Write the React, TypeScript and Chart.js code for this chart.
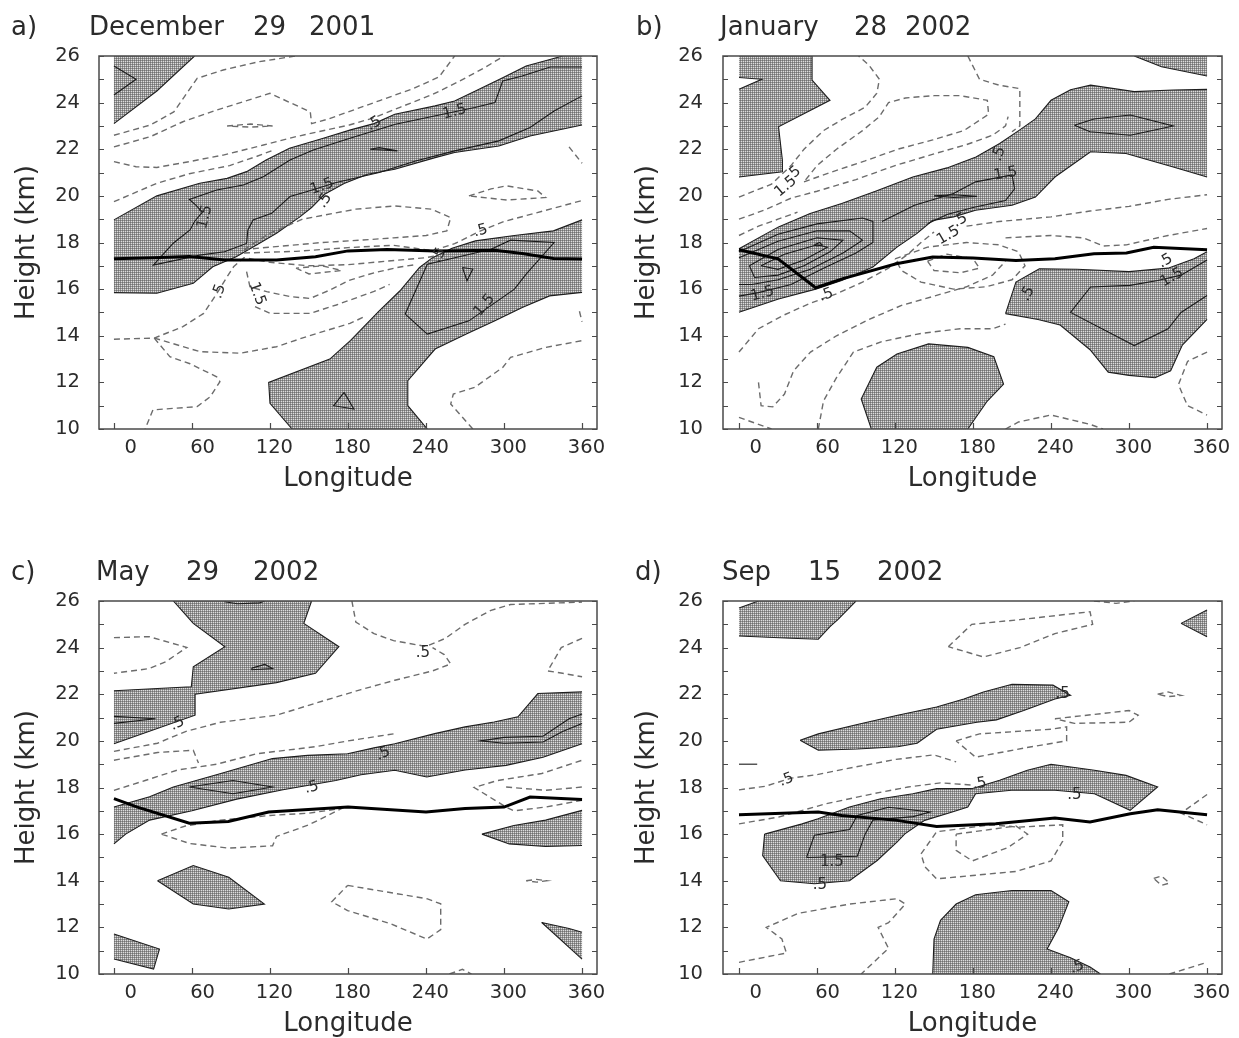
import React, { useEffect, useRef } from 'react';
import Chart from 'chart.js/auto';

type Pt = [number, number];
type Lbl = [string, number, number, number]; // text, longitude, height, rotation (deg)

// ---------- axes ----------
const X_TICKS = [0, 60, 120, 180, 240, 300, 360];
const Y_TICKS = [10, 11, 12, 13, 14, 15, 16, 17, 18, 19, 20, 21, 22, 23, 24, 25, 26];
const LON_MIN = 0;
const LON_MAX = 360;
const H_MIN = 10;
const H_MAX = 26;

// ---------- panel a) December 29 2001 ----------
const A_TITLE = ['a)', 'December', '29', '2001'];
const A_TROPOPAUSE: Pt[] = [[0, 17.3], [30, 17.35], [58, 17.4], [85, 17.25], [125, 17.25], [155, 17.39], [180, 17.64], [210, 17.7], [247, 17.64], [293, 17.67], [314, 17.53], [338, 17.31], [360, 17.29]];
const A_SHADE_1: Pt[] = [[0, 26], [62, 26], [33, 24.5], [0, 23.1]];
const A_SHADE_2: Pt[] = [[0, 18.97], [33, 20.0], [66, 20.54], [87, 20.75], [102, 21.04], [117, 21.54], [135, 22.04], [161, 22.47], [182, 22.83], [200, 23.1], [216, 23.5], [247, 23.86], [262, 24.07], [278, 24.5], [299, 25.07], [317, 25.57], [336, 25.86], [345, 26], [360, 26], [360, 23.04], [320, 22.57], [296, 22.14], [262, 21.86], [247, 21.64], [216, 21.14], [195, 20.93], [177, 20.53], [162, 20.07], [152, 19.5], [143, 19.1], [125, 18.4], [110, 17.9], [94, 17.39], [76, 16.96], [61, 16.25], [33, 15.82], [0, 15.85]];
const A_SHADE_3: Pt[] = [[137, 10], [120, 11.1], [119, 12.0], [166, 13.0], [182, 13.8], [204, 15.07], [220, 15.93], [235, 16.93], [245, 17.35], [260, 17.75], [278, 18.07], [308, 18.3], [338, 18.5], [360, 18.97], [360, 15.86], [335, 15.71], [314, 15.21], [293, 14.64], [271, 14.07], [247, 13.43], [226, 12.07], [226, 11.0], [241, 10]];
const A_SOLID_1: Pt[] = [[360, 25.53], [335.5, 25.53], [314, 25.14], [299, 24.93], [293, 24.0], [277.5, 23.79], [241, 23.36], [216.5, 23.07], [181.5, 22.47], [153.3, 21.97], [135.4, 21.54], [114.9, 20.82], [99.5, 20.47], [79, 20.25], [58, 19.85], [63, 19.6], [68, 19.3], [62, 18.9], [58.5, 18.54], [45.6, 17.97], [30.3, 17.03], [66, 17.46], [85, 17.6], [102, 17.96], [103, 18.54], [107, 18.97], [121.3, 19.25], [135.4, 19.97], [148, 20.18], [171, 20.57], [204, 21.0], [232, 21.5], [262, 21.93], [296, 22.36], [320, 22.93], [338.5, 23.64], [360, 24.29]];
const A_SOLID_2: Pt[] = [[197, 22.0], [218, 21.93], [204, 22.07], [197, 22.0]];
const A_SOLID_3: Pt[] = [[0, 25.57], [17, 25.0], [0, 24.33]];
const A_SOLID_4: Pt[] = [[224, 14.93], [241, 14.07], [273, 14.64], [308, 16.0], [317, 16.64], [338.5, 18.0], [305, 18.1], [290, 17.71], [241, 17.07], [224, 14.93]];
const A_SOLID_5: Pt[] = [[268, 16.93], [276, 16.86], [271.5, 16.36], [268, 16.93]];
const A_SOLID_6: Pt[] = [[177, 11.57], [184.5, 10.86], [169, 11.0], [177, 11.57]];
const A_DASH_1: Pt[] = [[0, 22.6], [28, 23.04], [46, 23.6], [64, 25.04], [84, 25.4], [112, 25.76], [140, 26]];
const A_DASH_2: Pt[] = [[0, 22.1], [28, 22.54], [53, 23.18], [79, 23.68], [120, 24.4], [151, 23.6], [152, 23.1], [165, 23.3], [180, 23.6], [205, 24.1], [230, 24.6], [250, 25.1], [262, 26]];
const A_DASH_3: Pt[] = [[0, 21.47], [17, 21.25], [33, 21.22], [58, 21.47], [84, 21.75], [115, 22.18], [140, 22.54], [181, 23.04], [200, 23.35], [220, 23.8], [245, 24.35], [265, 24.9], [285, 25.5], [300, 26]];
const A_DASH_4: Pt[] = [[0, 19.75], [33, 20.54], [58, 20.95], [89, 21.3], [110, 21.7], [122, 21.95]];
const A_DASH_5: Pt[] = [[350, 22.1], [360, 21.4]];
const A_DASH_6: Pt[] = [[273, 20.0], [290, 20.3], [302, 20.43], [326, 20.21], [332, 19.93], [302, 19.82], [273, 20.0]];
const A_DASH_7: Pt[] = [[100, 17.55], [140, 17.62], [180, 17.78], [215, 17.88], [245, 17.65], [262, 17.95], [282, 18.5], [300, 18.9], [330, 19.35], [360, 19.8]];
const A_DASH_8: Pt[] = [[100, 17.7], [120, 18.4], [145, 19.0], [186, 19.43], [216, 19.57], [244, 19.43], [259, 19.07], [256, 18.5], [240, 18.3], [215, 18.2], [190, 18.1], [160, 18.0], [130, 17.85], [100, 17.7]];
const A_DASH_9: Pt[] = [[0, 13.85], [31, 13.9], [53, 14.39], [69, 14.96], [80, 15.89], [87, 16.53], [92, 16.96], [100, 17.35], [120, 17.15], [150, 17.0], [180, 17.05], [210, 17.2], [240, 17.35], [250, 17.45]];
const A_DASH_10: Pt[] = [[102, 16.75], [104.6, 16.1], [117.5, 15.89], [135.4, 15.68], [150.8, 15.6], [166, 15.96], [181.5, 16.39], [200, 16.7], [220, 16.95], [232, 17.05]];
const A_DASH_11: Pt[] = [[108.5, 15.25], [120, 14.96], [150.8, 14.96], [171, 15.32], [181.5, 15.53], [200, 15.9], [212, 16.2]];
const A_DASH_12: Pt[] = [[140, 16.9], [150, 16.65], [175, 16.8], [160, 17.0], [140, 16.9]];
const A_DASH_13: Pt[] = [[31, 13.9], [66, 13.32], [97, 13.25], [125, 13.53], [148, 13.96], [181.5, 14.53], [192, 14.8]];
const A_DASH_14: Pt[] = [[31, 13.9], [43, 13.1], [58.5, 12.8], [79, 12.24], [81.5, 12.03], [74, 11.38], [64, 10.96], [30, 10.82], [24, 10]];
const A_DASH_15: Pt[] = [[276, 10], [259, 11.07], [261, 11.5], [277.5, 11.79], [299, 12.64], [305, 13.07], [332, 13.5], [360, 13.79]];
const A_DASH_16: Pt[] = [[358, 15.05], [360, 14.6]];
const A_DASH_17: Pt[] = [[87, 23.0], [105, 23.08], [122, 23.0], [105, 22.95], [87, 23.0]];
const A_LABELS: Lbl[] = [['.5', 200, 23.1, -30], ['1.5', 262, 23.6, -15], ['1.5', 160, 20.4, -20], ['.5', 162, 19.8, -55], ['1.5', 70, 19.1, -75], ['.5', 81, 15.9, -70], ['1.5', 110, 15.8, 70], ['.5', 282, 18.5, -15], ['.5', 250, 17.45, -60], ['1.5', 285, 15.3, -50]];

// ---------- panel b) January 28 2002 ----------
const B_TITLE = ['b)', 'January', '28', '2002'];
const B_TROPOPAUSE: Pt[] = [[0, 17.69], [30, 17.3], [59, 16.06], [80, 16.45], [121, 17.09], [149, 17.38], [180, 17.33], [213, 17.23], [243, 17.3], [273, 17.52], [298, 17.55], [319, 17.8], [360, 17.69]];
const B_SHADE_1: Pt[] = [[0, 26], [0, 25.08], [17.5, 25.0], [0, 24.57], [0, 20.81], [33.4, 21.03], [33.4, 21.53], [30.4, 22.96], [70, 24.1], [56.2, 24.97], [56.2, 26]];
const B_SHADE_2: Pt[] = [[0, 17.73], [30.4, 18.67], [54.7, 19.24], [79, 19.67], [105, 20.2], [133.7, 20.81], [160, 21.2], [182.3, 21.67], [200.5, 22.25], [215.7, 22.82], [228, 23.3], [240, 24.1], [255, 24.55], [270.4, 24.75], [304, 24.47], [334, 24.54], [360, 24.57], [360, 20.81], [334, 21.24], [297.7, 21.82], [270.4, 21.89], [243, 20.81], [228, 19.95], [210, 19.6], [182, 19.38], [165, 19.1], [149, 18.95], [136.7, 18.38], [121.5, 17.8], [103, 16.95], [79, 16.37], [59, 16.0], [30.4, 15.58], [0, 15.01]];
const B_SHADE_3: Pt[] = [[205, 14.95], [213, 16.3], [231, 16.87], [260, 16.85], [300, 16.75], [330, 16.9], [350, 17.3], [360, 17.6], [360, 14.7], [341, 13.6], [332, 12.5], [320, 12.2], [300, 12.3], [284, 12.44], [270, 13.4], [247, 14.46], [230, 14.7]];
const B_SHADE_4: Pt[] = [[304, 26], [325, 25.54], [360, 25.14], [360, 26]];
const B_SHADE_5: Pt[] = [[101.8, 10], [94, 11.29], [106, 12.65], [121.5, 13.22], [145.8, 13.65], [176, 13.5], [196, 13.1], [203.5, 11.93], [191, 11.2], [176, 10]];
const B_SOLID_1: Pt[] = [[0, 17.6], [30, 18.35], [60, 18.8], [95, 19.05], [103, 18.9], [103, 18.0], [90, 17.55], [65, 16.9], [40, 16.2], [15, 15.85], [0, 15.7]];
const B_SOLID_2: Pt[] = [[0, 17.35], [30, 18.05], [60, 18.5], [85, 18.5], [95, 18.1], [80, 17.55], [55, 16.85], [30, 16.4], [10, 16.2], [0, 16.2]];
const B_SOLID_3: Pt[] = [[8, 17.0], [30, 17.7], [60, 18.2], [80, 18.1], [70, 17.6], [50, 17.0], [30, 16.6], [12, 16.5], [8, 17.0]];
const B_SOLID_4: Pt[] = [[17, 17.0], [35, 17.5], [60, 17.9], [68, 17.8], [50, 17.25], [30, 16.85], [17, 17.0]];
const B_SOLID_5: Pt[] = [[58, 17.9], [62, 18.0], [64, 17.9], [60, 17.85], [58, 17.9]];
const B_SOLID_6: Pt[] = [[110, 18.9], [135, 19.6], [165, 20.1], [182, 20.6], [210, 20.9], [212, 20.3], [205, 19.8], [180, 19.5], [160, 19.2], [145, 18.8]];
const B_SOLID_7: Pt[] = [[150, 20.0], [165, 20.05], [183, 19.98], [165, 19.93], [150, 20.0]];
const B_SOLID_8: Pt[] = [[258, 23.03], [273, 23.3], [301, 23.47], [334, 23.0], [301, 22.6], [270, 22.75], [258, 23.03]];
const B_SOLID_9: Pt[] = [[360, 17.25], [340, 16.6], [322, 16.37], [300.8, 16.16], [270.4, 16.09], [255, 15.0], [304, 13.58], [330, 14.3], [340, 15.0], [360, 15.73]];
const B_DASH_1: Pt[] = [[0, 19.95], [25, 20.5], [40, 21.3], [50, 22.0], [65, 22.8], [80, 23.3], [97, 23.8], [106, 24.4], [108, 25.0], [100, 25.6], [92, 26]];
const B_DASH_2: Pt[] = [[176, 26], [185, 25.0], [200, 24.75], [216, 24.6], [216, 23.0], [210, 22.75]];
const B_DASH_3: Pt[] = [[50, 20.6], [70, 21.0], [97, 21.5], [122, 22.0], [149, 22.4], [173, 22.8], [192, 23.5], [191, 24.1], [170, 24.3], [150, 24.3], [128, 24.2], [115, 24.0], [108, 23.4], [95, 22.8], [75, 22.0], [60, 21.3], [50, 20.6]];
const B_DASH_4: Pt[] = [[0, 19.0], [20, 19.4], [40, 19.9], [60, 20.2], [90, 20.7], [120, 21.3], [150, 21.8], [175, 22.2], [195, 22.6], [205, 23.0], [207, 23.4]];
const B_DASH_5: Pt[] = [[0, 18.3], [15, 18.7], [30, 19.0], [45, 19.3]];
const B_DASH_6: Pt[] = [[0, 13.3], [15, 14.3], [35, 14.9], [55, 15.4], [75, 15.8], [95, 16.3], [115, 16.9], [130, 17.5], [140, 18.0], [150, 18.45]];
const B_DASH_7: Pt[] = [[15, 12.0], [17, 11.0], [26, 10.95], [35, 11.5], [42, 12.5], [55, 13.3], [75, 14.0], [100, 14.7], [125, 15.3], [150, 15.7], [175, 16.1], [195, 16.6], [205, 17.2]];
const B_DASH_8: Pt[] = [[61, 10], [65, 11.2], [75, 12.2], [88, 13.3], [110, 13.75], [140, 14.1], [170, 14.3], [195, 14.3], [205, 14.5]];
const B_DASH_9: Pt[] = [[120, 17.3], [145, 17.8], [175, 18.0], [200, 17.9], [215, 17.6], [220, 17.0], [210, 16.4], [190, 16.1], [165, 16.0], [140, 16.3], [125, 16.8], [120, 17.3]];
const B_DASH_10: Pt[] = [[145, 17.2], [160, 17.5], [180, 17.3], [185, 16.9], [170, 16.7], [150, 16.8], [145, 17.2]];
const B_DASH_11: Pt[] = [[175, 18.7], [200, 18.9], [240, 19.1], [270, 19.35], [300, 19.55], [330, 19.85], [360, 20.05]];
const B_DASH_12: Pt[] = [[205, 18.2], [240, 18.3], [265, 18.2], [280, 17.85], [298, 17.9], [330, 18.3], [360, 18.6]];
const B_DASH_13: Pt[] = [[205, 10], [215, 10.3], [240, 10.6], [270, 10.2], [280, 10]];
const B_DASH_14: Pt[] = [[0, 10.5], [20, 10.1], [25, 10]];
const B_DASH_15: Pt[] = [[360, 13.3], [345, 12.9], [338, 11.9], [345, 11.0], [360, 10.6]];
const B_LABELS: Lbl[] = [['.5', 200, 21.8, -70], ['1.5', 205, 20.95, -10], ['1.5', 36, 20.4, -40], ['.5', 42, 20.95, -40], ['.5', 170, 18.95, -30], ['1.5', 161, 18.3, -30], ['1.5', 18, 15.8, -15], ['.5', 67, 15.75, -20], ['.5', 222, 15.8, -60], ['.5', 328, 17.2, -30], ['1.5', 333, 16.5, -30]];

// ---------- panel c) May 29 2002 ----------
const C_TITLE = ['c)', 'May', '29', '2002'];
const C_TROPOPAUSE: Pt[] = [[0, 17.52], [18, 17.16], [58, 16.47], [88, 16.54], [119, 16.95], [180, 17.16], [240, 16.95], [270, 17.1], [300, 17.16], [320, 17.59], [360, 17.49]];
const C_SHADE_1: Pt[] = [[0, 22.15], [59.5, 22.32], [61, 23.18], [85.3, 24.04], [61, 25.04], [45.7, 26], [152, 26], [146, 25.04], [173, 24.04], [155, 22.9], [125, 22.5], [62.4, 22.0], [62.4, 21.1], [0, 19.88]];
const C_SHADE_2: Pt[] = [[0, 17.16], [27.4, 17.6], [45.7, 18.02], [82.2, 18.6], [121.8, 19.24], [149, 19.38], [179.7, 19.45], [200, 19.7], [216, 19.88], [246.7, 20.31], [270, 20.6], [292.4, 20.81], [310.7, 21.03], [326, 22.03], [360, 22.1], [360, 19.88], [330, 19.3], [301.6, 18.95], [270, 18.75], [240.6, 18.45], [216, 18.74], [190, 18.55], [170.6, 18.3], [130, 17.9], [94.4, 17.5], [60, 17.0], [27.4, 16.6], [9, 16.0], [0, 15.58]];
const C_SHADE_3: Pt[] = [[283, 16.0], [307.6, 16.37], [332, 16.6], [360, 17.02], [360, 15.51], [332, 15.47], [304, 15.58]];
const C_SHADE_4: Pt[] = [[33.5, 14.0], [61, 14.65], [88.3, 14.15], [115.7, 13.0], [88.3, 12.79], [61, 13.0]];
const C_SHADE_5: Pt[] = [[0, 11.72], [35, 11.07], [30.5, 10.21], [0, 10.64]];
const C_SHADE_6: Pt[] = [[329, 12.21], [350, 11.95], [360, 11.79], [360, 10.64]];
const C_SOLID_1: Pt[] = [[85, 25.97], [95, 25.88], [112, 25.92], [116, 26]];
const C_SOLID_2: Pt[] = [[106, 23.12], [116, 23.28], [122, 23.1], [106, 23.05], [106, 23.12]];
const C_SOLID_3: Pt[] = [[0, 21.05], [32, 20.95], [0, 20.75]];
const C_SOLID_4: Pt[] = [[58, 18.02], [91.5, 18.3], [122, 18.02], [91.5, 17.73], [58, 18.02]];
const C_SOLID_5: Pt[] = [[360, 21.15], [350, 20.95], [330, 20.2], [300, 20.15], [282, 20.0], [300, 19.9], [330, 19.95], [345, 20.4], [360, 20.75]];
const C_DASH_1: Pt[] = [[0, 24.43], [27, 24.47], [56, 24.01], [40, 23.4], [27, 23.1], [0, 22.9]];
const C_DASH_2: Pt[] = [[183, 26], [186, 25.1], [200, 24.6], [215, 24.3], [240, 24.05], [255, 24.4], [270, 25.0], [290, 25.6], [305, 25.85], [360, 25.95]];
const C_DASH_3: Pt[] = [[0, 19.55], [33.5, 19.9], [55, 20.4], [82, 20.8], [125, 21.1], [160, 21.7], [190, 22.2], [216, 22.6], [245, 23.0], [259, 23.3], [254, 23.7], [245, 24.0]];
const C_DASH_4: Pt[] = [[0, 19.17], [33.5, 19.5], [61, 19.6], [65, 19.05]];
const C_DASH_5: Pt[] = [[0, 17.88], [24, 18.3], [49, 18.75], [79, 19.0], [110, 19.45], [155, 19.75], [180, 20.0], [215, 20.3]];
const C_DASH_6: Pt[] = [[36.5, 16.0], [55, 16.35], [82, 16.6], [120, 16.8], [150, 16.9], [175, 17.1], [150, 16.4], [125, 15.9], [122, 15.5], [88, 15.4], [58, 15.6], [36.5, 16.0]];
const C_DASH_7: Pt[] = [[179.7, 13.8], [240.6, 13.23], [251.3, 13.01], [251.3, 11.9], [240.6, 11.5], [213, 12.15], [179.7, 12.72], [167.5, 13.1], [179.7, 13.8]];
const C_DASH_8: Pt[] = [[317, 14.0], [325, 14.06], [333, 14.0], [325, 13.94], [317, 14.0]];
const C_DASH_9: Pt[] = [[258, 10], [268, 10.2], [275, 10]];
const C_DASH_10: Pt[] = [[360, 24.4], [344, 24.0], [333.6, 23.0], [345, 22.9], [360, 22.75]];
const C_DASH_11: Pt[] = [[360, 17.45], [332, 17.16], [307.6, 17.0], [301.6, 17.16], [277, 18.0], [295, 18.3], [329, 18.6], [360, 19.17]];
const C_DASH_12: Pt[] = [[301.6, 18.02], [332, 17.88], [360, 18.02]];
const C_LABELS: Lbl[] = [['.5', 48.7, 20.74, -25], ['.5', 237.6, 23.75, 0], ['.5', 207, 19.45, -25], ['.5', 152, 18.0, -15]];

// ---------- panel d) Sep 15 2002 ----------
const D_TITLE = ['d)', 'Sep', '15', '2002'];
const D_TROPOPAUSE: Pt[] = [[0, 16.83], [61, 16.95], [79, 16.8], [121.5, 16.59], [152, 16.33], [197.5, 16.44], [243, 16.69], [270, 16.52], [301, 16.87], [322, 17.05], [360, 16.83]];
const D_SHADE_1: Pt[] = [[0, 25.7], [15, 26], [90, 26], [76, 25.2], [70, 24.9], [61, 24.36], [40, 24.4], [0, 24.5]];
const D_SHADE_2: Pt[] = [[340, 25.04], [360, 25.61], [360, 24.47]];
const D_SHADE_3: Pt[] = [[47, 20.03], [61, 20.3], [91, 20.7], [122, 21.1], [152, 21.45], [173, 21.8], [188, 22.1], [210, 22.43], [241.5, 22.39], [255, 21.96], [243, 21.8], [219, 21.3], [198, 20.9], [183, 20.8], [152, 20.5], [137, 19.9], [122, 19.75], [91, 19.65], [61, 19.6]];
const D_SHADE_4: Pt[] = [[19.7, 16.0], [18.2, 15.08], [31.9, 14.0], [58, 13.87], [85, 14.0], [106.3, 14.87], [121.5, 15.66], [127.6, 16.01], [142.8, 16.59], [164, 16.95], [176, 17.16], [182, 17.73], [209.6, 17.88], [243, 17.88], [273.4, 17.73], [300.8, 17.02], [322, 18.02], [297.7, 18.52], [273.4, 18.74], [240, 19.0], [221.8, 18.74], [200.5, 18.31], [179, 17.95], [152, 17.95], [133.7, 17.73], [109, 17.52], [85, 17.16], [60.8, 16.66], [48.6, 16.44]];
const D_SHADE_5: Pt[] = [[149, 10], [150, 11.5], [155, 12.3], [167, 13.0], [182, 13.4], [210, 13.58], [240, 13.58], [253.7, 13.1], [246, 12.0], [237, 11.07], [255, 10.7], [270, 10.3], [278, 10]];
const D_SOLID_1: Pt[] = [[52, 15.0], [58, 15.95], [85, 16.2], [91, 16.8], [115, 17.15], [147, 16.95], [134, 16.75], [103, 16.6], [97, 16.0], [91, 15.05], [52, 15.0]];
const D_SOLID_2: Pt[] = [[0, 19.0], [14, 19.0]];
const D_DASH_1: Pt[] = [[161, 24.04], [179, 25.0], [216, 25.2], [270, 25.54], [272, 25.0], [243, 24.6], [216, 24.0], [188, 23.6], [161, 24.04]];
const D_DASH_2: Pt[] = [[273, 26], [290, 25.9], [304, 26]];
const D_DASH_3: Pt[] = [[322, 22.0], [330, 22.1], [340, 21.95], [330, 21.9], [322, 22.0]];
const D_DASH_4: Pt[] = [[319, 14.1], [325, 14.2], [331, 13.9], [325, 13.8], [319, 14.1]];
const D_DASH_5: Pt[] = [[167, 20.0], [185, 20.3], [240, 20.5], [252, 20.6], [252, 20.0], [220, 19.7], [182, 19.3], [167, 20.0]];
const D_DASH_6: Pt[] = [[243, 20.95], [300, 21.3], [307, 21.1], [300, 20.8], [258, 20.75], [243, 20.95]];
const D_DASH_7: Pt[] = [[0, 17.9], [20, 18.05], [40, 18.4], [60, 18.55], [82, 18.8], [120, 19.2], [150, 19.4], [167, 19.1]];
const D_DASH_8: Pt[] = [[0, 16.44], [30.4, 16.73], [66.8, 17.3], [103, 17.73], [130, 18.02], [155, 18.2], [180, 18.1]];
const D_DASH_9: Pt[] = [[140, 15.15], [152, 16.1], [194, 16.4], [215, 16.3], [249, 16.4], [249, 15.7], [240, 14.85], [213, 14.4], [152, 14.08], [143, 14.6], [140, 15.15]];
const D_DASH_10: Pt[] = [[167, 16.0], [213, 16.35], [222, 16.0], [207, 15.43], [179.5, 14.85], [167, 15.3], [167, 16.0]];
const D_DASH_11: Pt[] = [[0, 10.5], [36.5, 10.9], [33, 11.5], [21, 12.0], [45.6, 12.6], [85, 13.0], [121.5, 13.23], [128, 13.0], [115, 12.2], [107, 12.0], [115, 11.1], [94, 10]];
const D_DASH_12: Pt[] = [[331, 10], [360, 10.5]];
const D_DASH_13: Pt[] = [[360, 17.7], [340, 16.9], [360, 16.4]];
const D_LABELS: Lbl[] = [['.5', 36.5, 18.33, -20], ['.5', 185, 18.16, -10], ['.5', 258, 17.66, 0], ['.5', 249, 22.0, 0], ['1.5', 71.4, 14.8, 0], ['.5', 62.3, 13.8, 0], ['.5', 260, 10.3, -20]];

// ---------- grouping ----------
interface PanelData { title: string[]; tropopause: Pt[]; shades: Pt[][]; solids: Pt[][]; dashes: Pt[][]; labels: Lbl[]; }
const PANEL_A: PanelData = { title: A_TITLE, tropopause: A_TROPOPAUSE, shades: [A_SHADE_1, A_SHADE_2, A_SHADE_3], solids: [A_SOLID_1, A_SOLID_2, A_SOLID_3, A_SOLID_4, A_SOLID_5, A_SOLID_6], dashes: [A_DASH_1, A_DASH_2, A_DASH_3, A_DASH_4, A_DASH_5, A_DASH_6, A_DASH_7, A_DASH_8, A_DASH_9, A_DASH_10, A_DASH_11, A_DASH_12, A_DASH_13, A_DASH_14, A_DASH_15, A_DASH_16, A_DASH_17], labels: A_LABELS };
const PANEL_B: PanelData = { title: B_TITLE, tropopause: B_TROPOPAUSE, shades: [B_SHADE_1, B_SHADE_2, B_SHADE_3, B_SHADE_4, B_SHADE_5], solids: [B_SOLID_1, B_SOLID_2, B_SOLID_3, B_SOLID_4, B_SOLID_5, B_SOLID_6, B_SOLID_7, B_SOLID_8, B_SOLID_9], dashes: [B_DASH_1, B_DASH_2, B_DASH_3, B_DASH_4, B_DASH_5, B_DASH_6, B_DASH_7, B_DASH_8, B_DASH_9, B_DASH_10, B_DASH_11, B_DASH_12, B_DASH_13, B_DASH_14, B_DASH_15], labels: B_LABELS };
const PANEL_C: PanelData = { title: C_TITLE, tropopause: C_TROPOPAUSE, shades: [C_SHADE_1, C_SHADE_2, C_SHADE_3, C_SHADE_4, C_SHADE_5, C_SHADE_6], solids: [C_SOLID_1, C_SOLID_2, C_SOLID_3, C_SOLID_4, C_SOLID_5], dashes: [C_DASH_1, C_DASH_2, C_DASH_3, C_DASH_4, C_DASH_5, C_DASH_6, C_DASH_7, C_DASH_8, C_DASH_9, C_DASH_10, C_DASH_11, C_DASH_12], labels: C_LABELS };
const PANEL_D: PanelData = { title: D_TITLE, tropopause: D_TROPOPAUSE, shades: [D_SHADE_1, D_SHADE_2, D_SHADE_3, D_SHADE_4, D_SHADE_5], solids: [D_SOLID_1, D_SOLID_2], dashes: [D_DASH_1, D_DASH_2, D_DASH_3, D_DASH_4, D_DASH_5, D_DASH_6, D_DASH_7, D_DASH_8, D_DASH_9, D_DASH_10, D_DASH_11, D_DASH_12, D_DASH_13], labels: D_LABELS };

// ---------- layout (page pixels) ----------
interface Layout { left: number; top: number; width: number; height: number; yAxisWidth: number; padRight: number; xMin: number; xMax: number; yTickPad: number; titleX: number[]; titleBase: number; }
const LAYOUT_LEFT = { width: 620, yAxisWidth: 99, padRight: 23, xMin: -11.5, xMax: 371.5, yTickPad: 19 };
const LAYOUT_RIGHT = { width: 619, yAxisWidth: 103, padRight: 17, xMin: -12.3, xMax: 371.5, yTickPad: 20 };
const PANELS: { key: string; data: PanelData; layout: Layout }[] = [
  { key: 'a', data: PANEL_A, layout: { ...LAYOUT_LEFT, left: 0, top: 0, height: 495, titleX: [11, 89, 253, 309], titleBase: 35 } },
  { key: 'b', data: PANEL_B, layout: { ...LAYOUT_RIGHT, left: 620, top: 0, height: 495, titleX: [636, 720, 854, 905], titleBase: 35 } },
  { key: 'c', data: PANEL_C, layout: { ...LAYOUT_LEFT, left: 0, top: 545, height: 495, titleX: [11, 96, 186, 253], titleBase: 580 } },
  { key: 'd', data: PANEL_D, layout: { ...LAYOUT_RIGHT, left: 620, top: 545, height: 495, titleX: [635, 722, 808, 877], titleBase: 580 } },
];

const FONT = '"DejaVu Sans", "Liberation Sans", sans-serif';
const TEXT = '#2b2b2b';

function makePattern(): CanvasPattern | string {
  const c = document.createElement('canvas');
  c.width = 2; c.height = 2;
  const g = c.getContext('2d');
  if (!g) return '#9a9a9a';
  g.fillStyle = '#dcdcdc'; g.fillRect(0, 0, 2, 2);
  g.fillStyle = '#939393'; g.fillRect(0, 0, 2, 1); g.fillRect(0, 0, 1, 2);
  g.fillStyle = '#707070'; g.fillRect(0, 0, 1, 1);
  return g.createPattern(c, 'repeat') || '#9a9a9a';
}

const onEdge = (a: Pt, b: Pt) =>
  (a[0] === b[0] && (a[0] === LON_MIN || a[0] === LON_MAX)) ||
  (a[1] === b[1] && (a[1] === H_MIN || a[1] === H_MAX));

const toXY = (pts: Pt[]) => pts.map(([x, y]) => ({ x, y }));

// outline of a shaded polygon, broken (null) where it runs along the data border
function outline(poly: Pt[]) {
  const pts: Pt[] = [...poly, poly[0]];
  const out: { x: number; y: number | null }[] = [{ x: pts[0][0], y: pts[0][1] }];
  for (let i = 0; i < pts.length - 1; i++) {
    if (onEdge(pts[i], pts[i + 1])) out.push({ x: pts[i][0], y: null });
    out.push({ x: pts[i + 1][0], y: pts[i + 1][1] });
  }
  return out;
}

function buildDatasets(d: PanelData, pattern: CanvasPattern | string) {
  const sets: any[] = [];
  d.shades.forEach((poly) => {
    sets.push({ data: toXY([...poly, poly[0]]), fill: 'shape', backgroundColor: pattern, borderWidth: 0, borderColor: 'rgba(0,0,0,0)', pointRadius: 0, pointHoverRadius: 0, order: 5 });
    sets.push({ data: outline(poly), fill: false, spanGaps: false, borderColor: '#1e1e1e', borderWidth: 1.1, pointRadius: 0, pointHoverRadius: 0, order: 4 });
  });
  d.dashes.forEach((line) => {
    sets.push({ data: toXY(line), fill: false, borderColor: '#6c6c6c', borderWidth: 1.4, borderDash: [6, 4], pointRadius: 0, pointHoverRadius: 0, order: 3 });
  });
  d.solids.forEach((line) => {
    sets.push({ data: toXY(line), fill: false, borderColor: '#1a1a1a', borderWidth: 1.1, pointRadius: 0, pointHoverRadius: 0, order: 2 });
  });
  sets.push({ data: toXY(d.tropopause), fill: false, borderColor: '#000', borderWidth: 3, pointRadius: 0, pointHoverRadius: 0, order: 1 });
  return sets;
}

const framePlugin = {
  id: 'frameTicks',
  afterDraw(chart: any) {
    const { ctx, chartArea: a, scales } = chart;
    const x = scales.x; const y = scales.y;
    ctx.save();
    ctx.strokeStyle = '#4a4a4a';
    ctx.lineWidth = 1.5;
    ctx.strokeRect(a.left, a.top, a.right - a.left, a.bottom - a.top);
    ctx.lineWidth = 1.2;
    ctx.beginPath();
    for (const t of y.ticks) {
      const py = Math.round(y.getPixelForValue(t.value)) + 0.5;
      ctx.moveTo(a.left, py); ctx.lineTo(a.left + 5, py);
      ctx.moveTo(a.right, py); ctx.lineTo(a.right - 5, py);
    }
    for (const t of x.ticks) {
      const px = Math.round(x.getPixelForValue(t.value)) + 0.5;
      ctx.moveTo(px, a.bottom); ctx.lineTo(px, a.bottom - 6);
    }
    ctx.stroke();
    ctx.restore();
  },
};

function labelPlugin(labels: Lbl[]) {
  return {
    id: 'contourLabels',
    afterDatasetsDraw(chart: any) {
      const { ctx, scales } = chart;
      ctx.save();
      ctx.font = `15px ${FONT}`;
      ctx.fillStyle = '#2a2a2a';
      ctx.textAlign = 'center';
      ctx.textBaseline = 'middle';
      for (const [t, lon, h, rot] of labels) {
        ctx.save();
        ctx.translate(scales.x.getPixelForValue(lon), scales.y.getPixelForValue(h));
        ctx.rotate((rot * Math.PI) / 180);
        ctx.fillText(t, 0, 0);
        ctx.restore();
      }
      ctx.restore();
    },
  };
}

function Panel({ data, layout }: { data: PanelData; layout: Layout }) {
  const ref = useRef<HTMLCanvasElement>(null);
  useEffect(() => {
    const canvas = ref.current;
    if (!canvas) return;
    const pattern = makePattern();
    const chart = new Chart(canvas, {
      type: 'line',
      data: { datasets: buildDatasets(data, pattern) },
      options: {
        responsive: false,
        animation: false,
        events: [],
        spanGaps: false,
        layout: { padding: { left: 0, top: 56, right: layout.padRight, bottom: 0 } },
        plugins: { legend: { display: false }, tooltip: { enabled: false } },
        scales: {
          x: {
            type: 'linear', min: layout.xMin, max: layout.xMax,
            afterBuildTicks: (s: any) => { s.ticks = X_TICKS.map((v) => ({ value: v })); },
            afterFit: (s: any) => { s.height = 66; },
            grid: { display: false, drawTicks: false },
            border: { display: false },
            ticks: { align: 'end', labelOffset: 23, padding: 7, autoSkip: false, maxRotation: 0, color: TEXT, font: { family: FONT, size: 19.5 }, callback: (v: any) => String(v) },
            title: { display: true, text: 'Longitude', color: TEXT, font: { family: FONT, size: 26 }, padding: { top: 0, bottom: 0 } },
          },
          y: {
            type: 'linear', min: H_MIN, max: H_MAX,
            afterBuildTicks: (s: any) => { s.ticks = Y_TICKS.map((v) => ({ value: v })); },
            afterFit: (s: any) => { s.width = layout.yAxisWidth; },
            grid: { display: false, drawTicks: false },
            border: { display: false },
            ticks: { padding: layout.yTickPad, autoSkip: false, color: TEXT, font: { family: FONT, size: 19.5 }, callback: (v: any) => (Number(v) % 2 === 0 ? String(v) : '') },
            title: { display: true, text: 'Height (km)', color: TEXT, font: { family: FONT, size: 26 }, padding: { top: 12, bottom: 0 } },
          },
        },
      } as any,
      plugins: [framePlugin, labelPlugin(data.labels)],
    } as any);
    return () => chart.destroy();
  }, [data, layout]);

  return (
    <>
      <canvas ref={ref} width={layout.width} height={layout.height}
        style={{ position: 'absolute', left: layout.left, top: layout.top, width: layout.width, height: layout.height }} />
      {data.title.map((w, i) => (
        <div key={i} style={{ position: 'absolute', left: layout.titleX[i], top: layout.titleBase - 22, fontFamily: FONT, fontSize: 26, lineHeight: '26px', color: TEXT, whiteSpace: 'pre' }}>{w}</div>
      ))}
    </>
  );
}

export default function App() {
  return (
    <div style={{ position: 'absolute', left: 0, top: 0, width: 1239, height: 1038, overflow: 'hidden', background: '#fff' }}>
      {PANELS.map((p) => <Panel key={p.key} data={p.data} layout={p.layout} />)}
    </div>
  );
}
